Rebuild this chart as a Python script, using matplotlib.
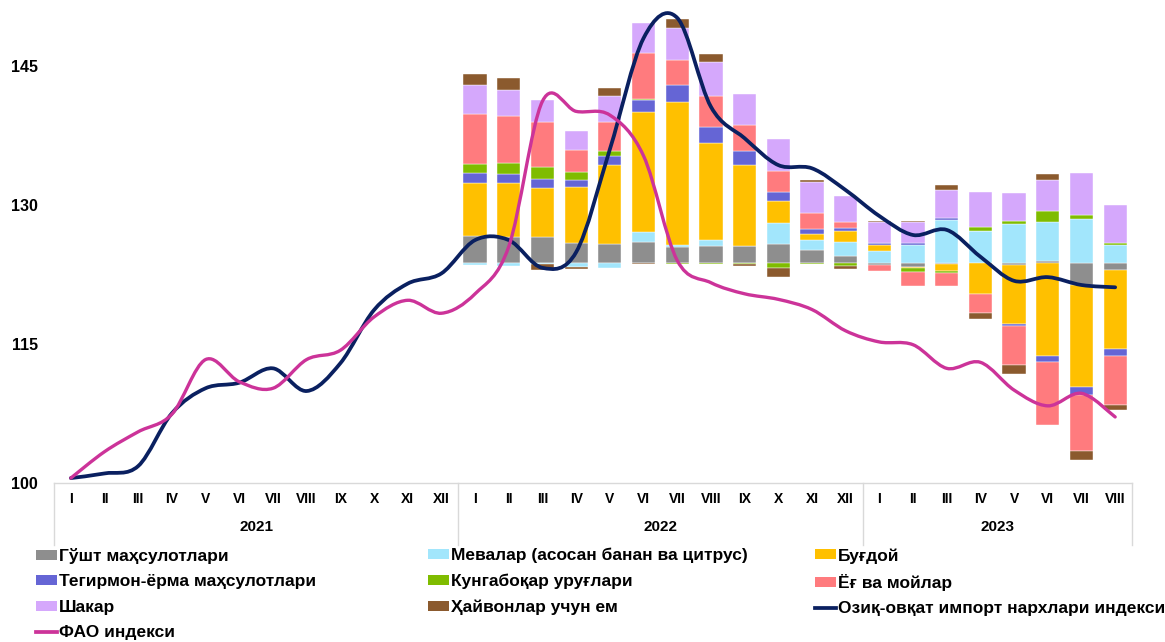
import numpy as np
import matplotlib.pyplot as plt
import matplotlib.transforms as mtransforms
from matplotlib.path import Path
from matplotlib.patches import PathPatch, Patch
from matplotlib.lines import Line2D

plt.rcParams['font.family'] = ['Liberation Sans', 'DejaVu Sans']
plt.rcParams['font.weight'] = 'bold'

# ---- data ----
years = ['2021', '2022', '2023']
months = ['I', 'II', 'III', 'IV', 'V', 'VI', 'VII', 'VIII', 'IX', 'X', 'XI', 'XII']
month_labels = months + months + months[:8]

# line series, 2021-I .. 2023-VIII
import_index = [100.5, 101.0, 101.8, 107.5, 110.2, 110.8, 112.35, 109.9, 112.9, 118.65, 121.5, 122.6,
                126.2, 126.2, 123.2, 124.9, 136.0, 148.0, 150.2, 140.6, 137.2, 134.3, 133.95, 131.6,
                128.8, 126.75, 127.3, 124.4, 121.8, 122.2, 121.35, 121.1]
fao_index = [100.5, 103.35, 105.5, 107.4, 113.3, 110.9, 110.2, 113.3, 114.3, 117.9, 119.7, 118.3,
             120.4, 125.5, 141.2, 140.1, 139.7, 135.3, 124.0, 121.6, 120.4, 119.8, 118.7, 116.4,
             115.2, 114.9, 112.35, 113.0, 110.0, 108.3, 109.65, 107.1]

# contributions to the index, 2022-I .. 2023-VIII, stacked around a base level
bar_base = 123.74
meat = [2.92, 2.81, 2.78, 2.16, 2.02, 2.27, 1.70, 1.80, 1.80, 1.99, 1.37, 0.76,
        -0.26, -0.48, -0.10, 0.0, -0.18, 0.17, -2.34, -0.72]
fruit = [-0.28, -0.32, -0.14, -0.46, -0.54, 1.08, 0.22, 0.65, 0.0, 2.27, 1.08, 1.51,
         1.33, 1.90, 4.68, 3.46, 4.24, 4.25, 4.78, 1.90]
wheat = [5.66, 5.77, 5.32, 5.98, 8.53, 12.96, 15.48, 10.51, 8.75, 2.41, 0.72, 1.19,
         0.62, -0.11, -0.80, -3.35, -6.40, -10.09, -11.05, -8.53]
flour = [1.08, 1.00, 0.94, 0.79, 1.00, 1.26, 1.80, 1.73, 1.51, 0.97, 0.54, 0.32,
         0.22, 0.26, 0.18, 0.0, -0.26, -0.60, -0.83, -0.76]
sunflower = [0.97, 1.16, 1.26, 0.90, 0.54, 0.08, -0.14, -0.12, -0.17, -0.60, -0.17, -0.32,
             0.0, -0.39, -0.17, 0.46, 0.25, 1.22, 0.43, 0.26]
oils = [5.43, 5.14, 4.92, 2.38, 3.13, 4.97, 2.70, 3.32, 2.81, 2.30, 1.68, 0.58,
        -0.57, -1.48, -1.48, -2.08, -4.21, -6.85, -6.05, -5.29]
sugar = [3.16, 2.78, 2.42, 2.02, 2.81, 3.24, 3.42, 3.64, 3.32, 3.42, 3.32, 2.87,
         2.22, 2.22, 3.06, 3.71, 3.07, 3.35, 4.50, 4.14]
feed = [1.16, 1.26, -0.68, -0.18, 0.86, -0.14, 0.97, 0.86, -0.22, -0.91, 0.22, -0.39,
        0.18, 0.18, 0.54, -0.62, -0.93, 0.65, -1.05, -0.54]

bar_names = ['Гўшт маҳсулотлари', 'Мевалар (асосан банан ва цитрус)', 'Буғдой',
             'Тегирмон-ёрма маҳсулотлари', 'Кунгабоқар уруғлари', 'Ёғ ва мойлар',
             'Шакар', 'Ҳайвонлар учун ем']
bar_series = [meat, fruit, wheat, flour, sunflower, oils, sugar, feed]
bar_colors = ['#8E8E8E', '#A2E6FC', '#FFC000', '#6565D5', '#7FBC00', '#FF7B7E',
              '#D5A8FC', '#8B5A2E']
line_names = ['Озиқ-овқат импорт нархлари индекси', 'ФАО индекси']
line_colors = ['#0A2060', '#CC3399']

# ---- figure ----
fig = plt.figure(figsize=(11.65, 6.42), dpi=100)
ax = fig.add_axes([54 / 1165, 1 - 482.7 / 642, 1078 / 1165, 482.7 / 642])

x_all = np.arange(len(month_labels))
x_bars = x_all[12:]

pos = np.full(len(x_bars), bar_base)
neg = np.full(len(x_bars), bar_base)
for vals, col in zip(bar_series, bar_colors):
    v = np.array(vals)
    bottom = np.where(v >= 0, pos, neg)
    ax.bar(x_bars, v, bottom=bottom, width=0.69, color=col, edgecolor='white',
           linewidth=0.3, zorder=2)
    pos = pos + np.clip(v, 0, None)
    neg = neg + np.clip(v, None, 0)


def smooth_path(xs, ys):
    # cubic bezier through the points (Catmull-Rom style control points)
    pts = np.column_stack([xs, ys]).astype(float)
    verts = [pts[0]]
    codes = [Path.MOVETO]
    n = len(pts)
    for i in range(n - 1):
        p0 = pts[i - 1] if i > 0 else pts[i]
        p1, p2 = pts[i], pts[i + 1]
        p3 = pts[i + 2] if i + 2 < n else pts[i + 1]
        verts += [p1 + (p2 - p0) / 6, p2 - (p3 - p1) / 6, p2]
        codes += [Path.CURVE4] * 3
    return Path(verts, codes)


for vals, col, lw in zip([import_index, fao_index], line_colors, [2.7, 2.4]):
    ax.add_patch(PathPatch(smooth_path(x_all, vals), facecolor='none', edgecolor=col,
                           lw=lw, capstyle='round', joinstyle='round', zorder=3))

ax.set_xlim(-0.5, len(month_labels) - 0.5)
ax.set_ylim(100, 100 + 482.7 / 9.26)
ax.set_yticks([100, 115, 130, 145])
ax.tick_params(axis='y', length=0, pad=11.5, labelsize=11.5)
ax.set_xticks(x_all)
ax.set_xticklabels(month_labels, fontsize=10, fontweight='bold')
ax.tick_params(axis='x', length=0, pad=6.5)
for s in ['left', 'right', 'top']:
    ax.spines[s].set_visible(False)
ax.spines['bottom'].set_color('#D9D9D9')
ax.spines['bottom'].set_linewidth(1.0)

trans = mtransforms.blended_transform_factory(ax.transData, ax.transAxes)
sep_depth = 62 / 482.7
for xs in [-0.5, 11.5, 23.5, len(month_labels) - 0.5]:
    ax.add_line(Line2D([xs, xs], [0, -sep_depth], transform=trans, color='#D9D9D9',
                       lw=1.0, clip_on=False))
for yr, xc in zip(years, [5.5, 17.5, 27.5]):
    ax.text(xc, -44 / 482.7, yr, transform=trans, ha='center', va='center',
            fontsize=11, fontweight='bold')

# legend in three columns, filled row by row
handles = [Patch(facecolor=c, edgecolor='none') for c in bar_colors]
handles += [Line2D([], [], color=c, lw=2.7) for c in line_colors]
labels = bar_names + line_names
groups = [[0, 3, 6, 9], [1, 4, 7], [2, 5, 8]]
for grp, xl in zip(groups, [36, 428, 815]):
    fig.legend([handles[i] for i in grp], [labels[i] for i in grp], loc='upper left',
               bbox_to_anchor=(xl / 1165, 1 - 548 / 642), frameon=False, borderpad=0,
               borderaxespad=0, handlelength=1.2, handleheight=0.5,
               handletextpad=0.1, labelspacing=0.6, prop={'weight': 'bold', 'size': 12.5})

fig.savefig('out.png', dpi=100)
